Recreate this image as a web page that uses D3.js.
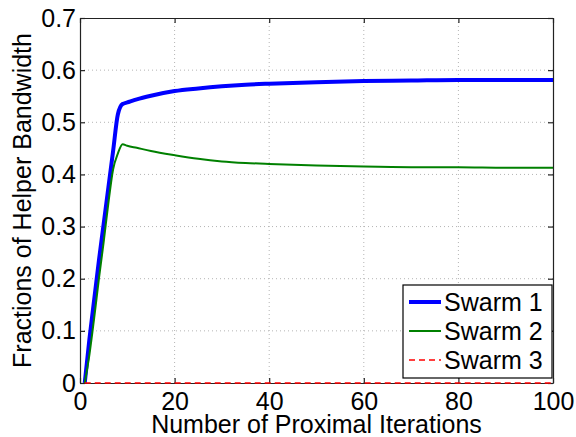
<!DOCTYPE html>
<html>
<head>
<meta charset="utf-8">
<script src="https://cdn.jsdelivr.net/npm/d3@7"></script>
<style>
  body { margin: 0; background: #fff; }
  text { font-family: "Liberation Sans", Arial, sans-serif; fill: #000; }
</style>
</head>
<body>
<div id="chart"></div>
<script>
const iterations = [1, 2, 3, 4, 5, 6, 7, 8, 9, 10, 12, 15, 20, 25, 30, 35, 40, 50, 60, 70, 80, 90, 100];
const swarm1 = [0, 0.085, 0.16, 0.235, 0.305, 0.375, 0.445, 0.515, 0.535, 0.538, 0.544, 0.551, 0.56, 0.565, 0.569, 0.572, 0.574, 0.577, 0.579, 0.58, 0.581, 0.581, 0.581];
const swarm2 = [0, 0.055, 0.125, 0.2, 0.27, 0.345, 0.41, 0.44, 0.458, 0.455, 0.451, 0.445, 0.437, 0.43, 0.425, 0.422, 0.42, 0.417, 0.415, 0.414, 0.414, 0.413, 0.413];
const swarm3 = [0, 0, 0, 0, 0, 0, 0, 0, 0, 0, 0, 0, 0, 0, 0, 0, 0, 0, 0, 0, 0, 0, 0];
const seriesNames = ["Swarm 1", "Swarm 2", "Swarm 3"];
const xTicks = [0, 20, 40, 60, 80, 100];
const yTicks = [0, 0.1, 0.2, 0.3, 0.4, 0.5, 0.6, 0.7];

const width = 576, height = 437;
const margin = {top: 18, right: 23, bottom: 54, left: 80};

const series = [
    {name: seriesNames[0], values: swarm1, color: "#0000ff", width: 4, dash: null},
    {name: seriesNames[1], values: swarm2, color: "#008000", width: 2, dash: null},
    {name: seriesNames[2], values: swarm3, color: "#ff0000", width: 1.5, dash: "6,4"}
];

const svg = d3.select("#chart").append("svg")
    .attr("width", width)
    .attr("height", height);

svg.append("rect").attr("width", width).attr("height", height).attr("fill", "#fff");

const x = d3.scaleLinear().domain([0, 100]).range([margin.left, width - margin.right]);
const y = d3.scaleLinear().domain([0, 0.7]).range([height - margin.bottom, margin.top]);

// dotted grid
const grid = svg.append("g").attr("stroke", "#b4b4b4").attr("stroke-dasharray", "1,3").attr("stroke-width", 1);
grid.selectAll(".gx")
    .data(xTicks.slice(1, -1))
    .join("line")
    .attr("x1", d => x(d)).attr("x2", d => x(d))
    .attr("y1", y(0)).attr("y2", y(0.7));
grid.selectAll(".gy")
    .data(yTicks.slice(1, -1))
    .join("line")
    .attr("x1", x(0)).attr("x2", x(100))
    .attr("y1", d => y(d)).attr("y2", d => y(d));

const fmtY = d => d === 0 ? "0" : d3.format(".1f")(d);

const axes = svg.append("g");

axes.append("g")
    .attr("transform", `translate(0,${y(0)})`)
    .call(d3.axisBottom(x).tickValues(xTicks).tickSize(-5).tickSizeOuter(0).tickPadding(9));
axes.append("g")
    .attr("transform", `translate(0,${y(0.7)})`)
    .call(d3.axisTop(x).tickValues(xTicks).tickSize(-5).tickSizeOuter(0).tickFormat(""));
axes.append("g")
    .attr("transform", `translate(${x(0)},0)`)
    .call(d3.axisLeft(y).tickValues(yTicks).tickSize(-5).tickSizeOuter(0).tickPadding(4).tickFormat(fmtY));
axes.append("g")
    .attr("transform", `translate(${x(100)},0)`)
    .call(d3.axisRight(y).tickValues(yTicks).tickSize(-5).tickSizeOuter(0).tickFormat(""));

axes.selectAll("g").attr("font-size", 25).attr("font-family", "Liberation Sans, Arial, sans-serif");
axes.selectAll("text").attr("fill", "#000");
axes.selectAll(".domain, .tick line").attr("stroke", "#222").attr("stroke-width", 1.2);

// axis titles
svg.append("text")
    .attr("x", (x(0) + x(100)) / 2)
    .attr("y", 433)
    .attr("text-anchor", "middle")
    .attr("font-size", 25)
    .text("Number of Proximal Iterations");

svg.append("text")
    .attr("transform", `translate(31,${(y(0) + y(0.7)) / 2}) rotate(-90)`)
    .attr("text-anchor", "middle")
    .attr("font-size", 25)
    .text("Fractions of Helper Bandwidth");

// lines
const line = d3.line()
    .x((d, i) => x(iterations[i]))
    .y(d => y(d))
    .curve(d3.curveMonotoneX);

svg.append("g").selectAll("path")
    .data(series)
    .join("path")
    .attr("fill", "none")
    .attr("stroke", d => d.color)
    .attr("stroke-width", d => d.width)
    .attr("stroke-dasharray", d => d.dash)
    .attr("stroke-linejoin", "round")
    .attr("d", d => line(d.values));

// legend
const legend = svg.append("g").attr("transform", "translate(403,285)");
legend.append("rect")
    .attr("width", 149).attr("height", 93)
    .attr("fill", "#fff").attr("stroke", "#000").attr("stroke-width", 1.2);

const rows = legend.selectAll(".row")
    .data(series)
    .join("g")
    .attr("class", "row")
    .attr("transform", (d, i) => `translate(0,${17 + i * 29})`);
rows.append("line")
    .attr("x1", 6).attr("x2", 38)
    .attr("stroke", d => d.color)
    .attr("stroke-width", d => d.width)
    .attr("stroke-dasharray", d => d.dash);
rows.append("text")
    .attr("x", 41).attr("y", 8.5)
    .attr("font-size", 25)
    .text(d => d.name);
</script>
</body>
</html>
